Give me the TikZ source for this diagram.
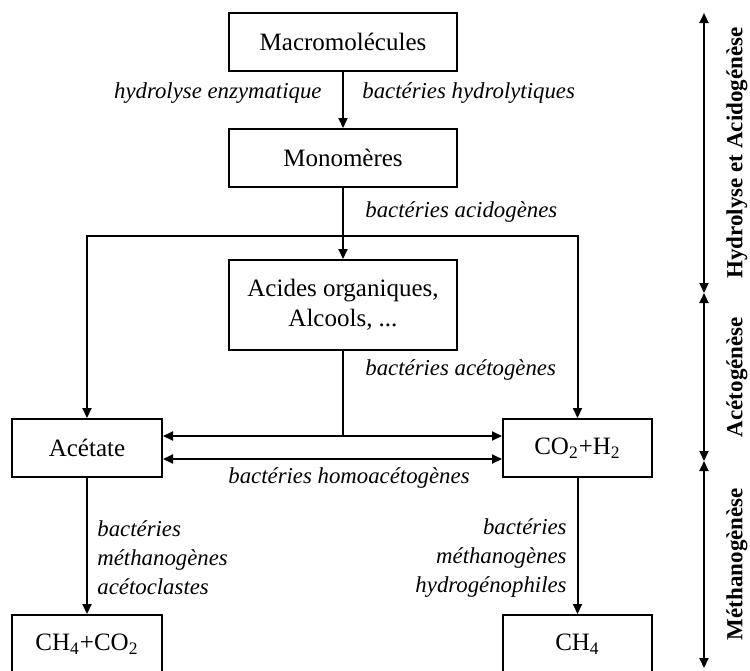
\documentclass[tikz,border=0pt]{standalone}
\usepackage{fontspec}
\setmainfont{Liberation Serif}
\usepackage{tikz}
\usetikzlibrary{positioning}
\usetikzlibrary{arrows.meta}

\tikzset{
  etape/.style={draw, line width=1pt, minimum width=114pt, minimum height=29pt,
    inner sep=0pt, align=center, font=\fontsize{12.5}{15}\selectfont},
  etiq/.style={inner sep=0pt, font=\fontsize{11.4}{14.5}\selectfont\itshape},
  fleche/.style={line width=1pt, -{Triangle[length=5pt, width=4.5pt]}},
  fleches/.style={line width=1pt, {Triangle[length=5pt, width=4.5pt]}-{Triangle[length=5pt, width=4.5pt]}},
  phase/.style={rotate=90, inner sep=0pt, font=\fontsize{11.5}{14}\selectfont\bfseries},
}

\begin{document}
\begin{tikzpicture}[x=0.5pt, y=-0.5pt]
        \useasboundingbox (0,0) rectangle (750,670);
        % boites
        \node[etape] (macro) at (343,42) {Macromolécules};
        \node[etape] (mono) at (343,158) {Monomères};
        \node[etape, minimum height=45pt] (acides) at (343,305) {Acides organiques,\\ Alcools, ...};
        \node[etape, minimum width=75pt] (acetate) at (87,448) {Acétate};
        \node[etape, minimum width=74.5pt] (co2) at (577.5,448) {CO\textsubscript{2}+H\textsubscript{2}};
        \node[etape, minimum width=75pt] (ch4co2) at (87,644) {CH\textsubscript{4}+CO\textsubscript{2}};
        \node[etape, minimum width=74.5pt] (ch4) at (577.5,644) {CH\textsubscript{4}};

        % fleches
        \draw[fleche] (macro) -- (mono);
        \draw[fleche] (mono) -- (acides);
        \coordinate (split) at (mono.south |- 0,236);
        \draw[fleche] (split) -| (acetate);
        \draw[fleche] (split) -| (co2);
        \coordinate (ha) at ([yshift=6pt]acetate.east);
        \coordinate (hb) at ([yshift=6pt]co2.west);
        \coordinate (ba) at ([yshift=-5.5pt]acetate.east);
        \coordinate (bb) at ([yshift=-5.5pt]co2.west);
        \draw[fleches] (ha) -- (hb);
        \draw[fleches] (ba) -- (bb);
        \draw[line width=1pt] (acides) -- (acides |- ha);
        \draw[fleche] (acetate) -- (ch4co2);
        \draw[fleche] (co2) -- (ch4);

        % etiquettes
        \node[etiq, anchor=east] (lhyd) at (322,93) {hydrolyse enzymatique};
        \node[etiq, anchor=west] (lbhyd) at (362,93) {bactéries hydrolytiques};
        \node[etiq, anchor=west] (lacido) at (365,212) {bactéries acidogènes};
        \node[etiq, anchor=west] (laceto) at (365,370) {bactéries acétogènes};
        \node[etiq] (lhomo) at (349,478) {bactéries homoacétogènes};
        \node[etiq, anchor=west, align=left] (lacl) at (97,558) {bactéries\\ méthanogènes\\ acétoclastes};
        \node[etiq, anchor=east, align=right] (lhph) at (567,558) {bactéries\\ méthanogènes\\ hydrogénophiles};

        % phases
        \coordinate (p0) at (704,13);
        \coordinate (p1) at (704,293);
        \coordinate (p2) at (704,461);
        \coordinate (p3) at (704,668);
        \draw[fleches] (p0) -- (p1);
        \draw[fleches] (p1) -- (p2);
        \draw[fleches] (p2) -- (p3);
        \node[phase] (hydro) at (737,153) {Hydrolyse et Acidogénèse};
        \node[phase] (aceto) at (737,377) {Acétogénèse};
        \node[phase] (metha) at (737,564) {Méthanogènèse};
    \end{tikzpicture}
\end{document}
